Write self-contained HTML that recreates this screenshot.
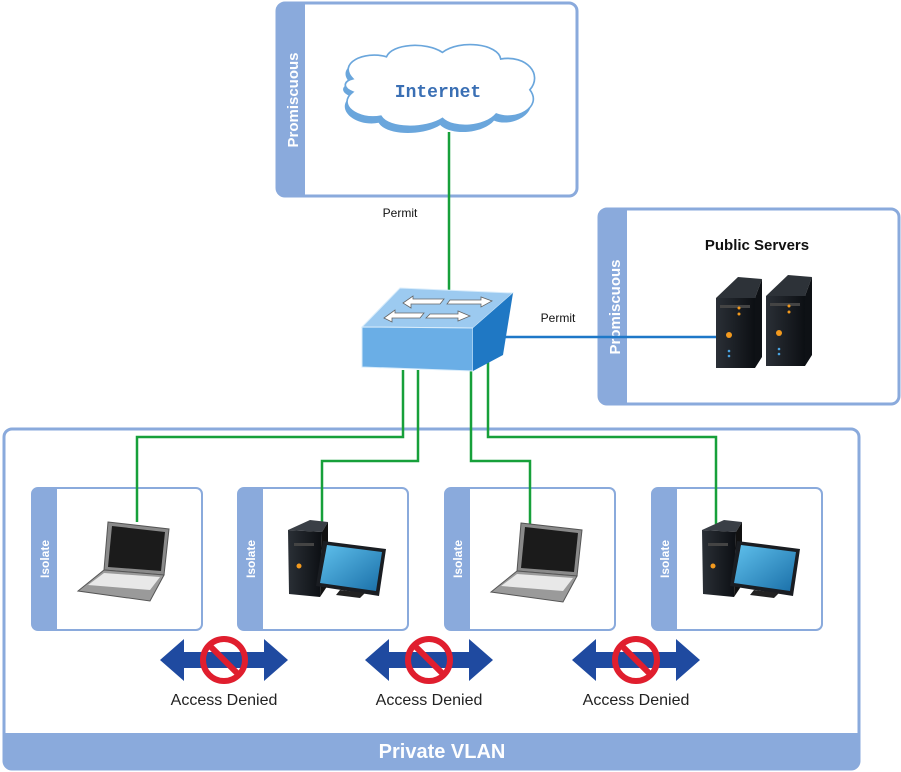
<!DOCTYPE html>
<html><head><meta charset="utf-8"><style>
html,body{margin:0;padding:0;background:#fff}
svg{display:block}
text{font-family:"Liberation Sans",sans-serif}
</style></head><body>
<svg width="901" height="772" viewBox="0 0 901 772" xmlns="http://www.w3.org/2000/svg">
<defs>
<linearGradient id="scr" x1="0" y1="0" x2="1" y2="1"><stop offset="0" stop-color="#5fc0ec"/><stop offset="1" stop-color="#1a6fa8"/></linearGradient>
<linearGradient id="twr" x1="0" y1="0" x2="1" y2="0"><stop offset="0" stop-color="#2a2f36"/><stop offset="1" stop-color="#0c0f13"/></linearGradient>
<g id="laptop">
  <polygon points="108,522 169,529 164,575 104,570" fill="#8a8a8a" stroke="#555" stroke-width="1"/>
  <polygon points="112,526 165,532 161,571 108,567" fill="#1b1b1b"/>
  <polygon points="104,570 164,575 150,601 78,591" fill="#9a9a9a" stroke="#555" stroke-width="1"/>
  <polygon points="104,573 160,577 150,590 88,585" fill="#e8e8e8"/>
</g>
<g id="pc">
  <polygon points="288,530 310,520 328,522 322,532" fill="#3a3f46"/>
  <polygon points="288,530 322,532 320,597 289,594" fill="url(#twr)"/>
  <polygon points="322,532 328,522 328,585 320,597" fill="#111"/>
  <circle cx="299" cy="566" r="2.5" fill="#f39a1e"/>
  <rect x="294" y="543" width="20" height="3" fill="#444"/>
  <polygon points="323,541 386,549 379,596 316,586" fill="#1a1d22"/>
  <polygon points="327,545 382,552 376,591 320,583" fill="url(#scr)"/>
  <polygon points="340,590 365,593 360,598 336,595" fill="#222"/>
</g>
<g id="server">
  <polygon points="716,298 738,277 762,279 755,298" fill="#2d3238"/>
  <polygon points="716,298 755,298 755,368 716,368" fill="url(#twr)"/>
  <polygon points="755,298 762,279 762,357 755,368" fill="#0e1115"/>
  <rect x="720" y="305" width="30" height="3" fill="#444"/>
  <circle cx="739" cy="308" r="1.5" fill="#f39a1e"/><circle cx="739" cy="314" r="1.5" fill="#f39a1e"/>
  <circle cx="729" cy="335" r="3" fill="#f39a1e"/>
  <circle cx="729" cy="351" r="1.3" fill="#4aa3e0"/><circle cx="729" cy="356" r="1.3" fill="#4aa3e0"/>
</g>
<g id="deny">
  <polygon points="-64,0 -40,-21 -40,-8 40,-8 40,-21 64,0 40,21 40,8 -40,8 -40,21" fill="#1f4aa0"/>
  <circle cx="0" cy="0" r="21" fill="none" stroke="#e01e2e" stroke-width="6"/>
  <line x1="-14" y1="-14" x2="14" y2="14" stroke="#e01e2e" stroke-width="6"/>
</g>
</defs>

<rect x="277" y="3" width="300" height="193" rx="8" fill="#fff" stroke="#8aaadc" stroke-width="3"/>
<path d="M285,3 H305 V196 H285 A8,8 0 0 1 277,188 V11 A8,8 0 0 1 285,3Z" fill="#8aaadc"/>
<text transform="translate(298,100) rotate(-90)" text-anchor="middle" font-size="15" font-weight="bold" fill="#fff">Promiscuous</text>
<g transform="translate(438,92) scale(1.12,1.1) translate(-438,-92)">
<path d="M360,84 C345,70 370,58 390,64 C395,52 425,50 440,60 C455,48 490,52 492,66 C515,62 530,80 518,94 C530,110 505,125 488,118 C478,130 450,132 440,122 C425,132 392,132 385,120 C365,124 345,108 360,96 C350,92 352,86 360,84Z" fill="#6aa6dc"/>
<path d="M362,80 C348,66 372,54 392,60 C397,48 427,46 442,56 C457,44 492,48 494,62 C517,58 532,76 520,90 C532,106 507,119 490,112 C480,124 452,126 442,116 C427,126 394,126 387,114 C367,118 347,104 362,92 C352,88 354,82 362,80Z" fill="#fff" stroke="#6aa6dc" stroke-width="1.5"/>
</g>
<text x="438" y="97" text-anchor="middle" style="font-family:'Liberation Mono',monospace" font-size="18" font-weight="bold" fill="#3a6fb4">Internet</text>

<rect x="599" y="209" width="300" height="195" rx="8" fill="#fff" stroke="#8aaadc" stroke-width="3"/>
<path d="M607,209 H627 V404 H607 A8,8 0 0 1 599,396 V217 A8,8 0 0 1 607,209Z" fill="#8aaadc"/>
<text transform="translate(620,307) rotate(-90)" text-anchor="middle" font-size="15" font-weight="bold" fill="#fff">Promiscuous</text>
<text x="757" y="250" text-anchor="middle" font-size="15" font-weight="bold" fill="#111">Public Servers</text>

<rect x="4" y="429" width="855" height="340" rx="8" fill="#fff" stroke="#8aaadc" stroke-width="3"/>
<path d="M4,733 H859 V761 A8,8 0 0 1 851,769 H12 A8,8 0 0 1 4,761Z" fill="#8aaadc"/>
<text x="442" y="758" text-anchor="middle" font-size="20" font-weight="bold" fill="#fff">Private VLAN</text>

<g fill="#fff" stroke="#8aaadc" stroke-width="2">
<rect x="32" y="488" width="170" height="142" rx="6"/>
<rect x="238" y="488" width="170" height="142" rx="6"/>
<rect x="445" y="488" width="170" height="142" rx="6"/>
<rect x="652" y="488" width="170" height="142" rx="6"/>
</g>
<g fill="#8aaadc">
<path d="M38,488 H57 V630 H38 A6,6 0 0 1 32,624 V494 A6,6 0 0 1 38,488Z"/>
<path d="M244,488 H263 V630 H244 A6,6 0 0 1 238,624 V494 A6,6 0 0 1 244,488Z"/>
<path d="M451,488 H470 V630 H451 A6,6 0 0 1 445,624 V494 A6,6 0 0 1 451,488Z"/>
<path d="M658,488 H677 V630 H658 A6,6 0 0 1 652,624 V494 A6,6 0 0 1 658,488Z"/>
</g>
<g font-size="12" font-weight="bold" fill="#fff" text-anchor="middle">
<text transform="translate(49,559) rotate(-90)">Isolate</text>
<text transform="translate(255,559) rotate(-90)">Isolate</text>
<text transform="translate(462,559) rotate(-90)">Isolate</text>
<text transform="translate(669,559) rotate(-90)">Isolate</text>
</g>

<g fill="none" stroke="#17a03a" stroke-width="2.5">
<line x1="449" y1="132" x2="449" y2="292"/>
<polyline points="403,370 403,437 137,437 137,522"/>
<polyline points="418,370 418,461 322,461 322,522"/>
<polyline points="471,370 471,461 530,461 530,526"/>
<polyline points="488,355 488,437 716,437 716,524"/>
</g>
<line x1="490" y1="337" x2="716" y2="337" stroke="#1e78c8" stroke-width="2.5"/>
<text x="400" y="217" text-anchor="middle" font-size="12" fill="#111">Permit</text>
<text x="558" y="322" text-anchor="middle" font-size="12" fill="#111">Permit</text>

<polygon points="362,327 400,288 513,293 473,328" fill="#9ccaf0" stroke="#d8ecfb" stroke-width="1"/>
<polygon points="362,327 473,328 473,371 362,367" fill="#6aaee6" stroke="#d8ecfb" stroke-width="1"/>
<polygon points="473,328 513,293 503,355 473,371" fill="#1f78c4"/>
<g fill="#fff" stroke="#666" stroke-width="0.8">
<polygon points="403,303 413,296 413,299 444,299 440,304 411,304 411,308"/>
<polygon points="450,300 481,300 481,297 492,301 481,307 481,304 447,304"/>
<polygon points="384,318 395,310 395,313 424,313 420,318 392,318 392,322"/>
<polygon points="430,314 458,314 458,311 470,316 458,321 458,318 426,318"/>
</g>

<use href="#laptop"/>
<use href="#laptop" transform="translate(413,1)"/>
<use href="#pc"/>
<use href="#pc" transform="translate(414,0)"/>
<use href="#server"/>
<use href="#server" transform="translate(50,-2)"/>

<use href="#deny" transform="translate(224,660)"/>
<use href="#deny" transform="translate(429,660)"/>
<use href="#deny" transform="translate(636,660)"/>
<g font-size="16" fill="#222" text-anchor="middle">
<text x="224" y="705">Access Denied</text>
<text x="429" y="705">Access Denied</text>
<text x="636" y="705">Access Denied</text>
</g>
</svg>
</body></html>
